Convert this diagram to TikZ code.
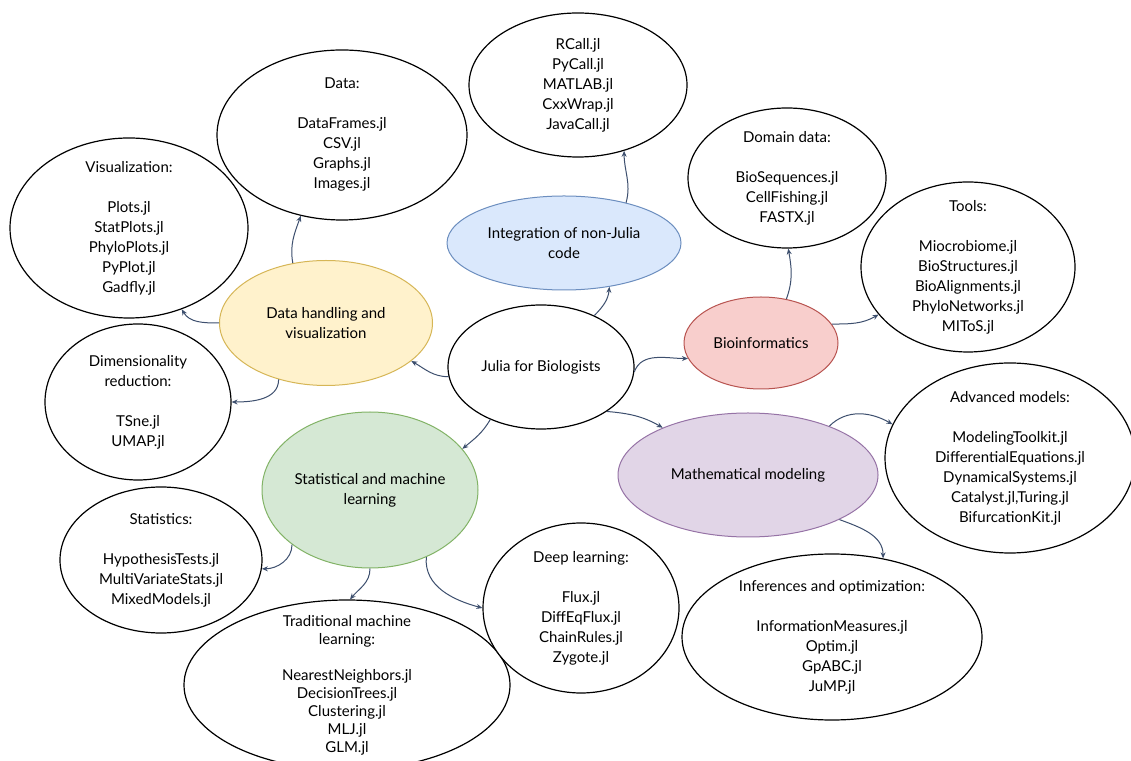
\documentclass[tikz,border=0pt]{standalone}
\usepackage{fontspec}
\setmainfont{Lato}
\usetikzlibrary{arrows.meta,shapes.geometric}
\definecolor{arrowblue}{RGB}{61,79,110}
\definecolor{bluefill}{HTML}{DAE8FC}
\definecolor{blueline}{HTML}{6C8EBF}
\definecolor{yellowfill}{HTML}{FFF2CC}
\definecolor{yellowline}{HTML}{D6B656}
\definecolor{redfill}{HTML}{F8CECC}
\definecolor{redline}{HTML}{B85450}
\definecolor{greenfill}{HTML}{D5E8D4}
\definecolor{greenline}{HTML}{82B366}
\definecolor{purplefill}{HTML}{E1D5E7}
\definecolor{purpleline}{HTML}{9673A6}

\begin{document}
\begin{tikzpicture}[
    x=1pt, y=1pt,
    dims/.style 2 args={minimum width=#1pt, minimum height=#2pt},
    ell/.style={ellipse, draw, inner sep=0pt},
    libell/.style={ell, draw=black, fill=white, line width=1.2pt},
    blueell/.style={ell, fill=bluefill, draw=blueline, line width=1pt},
    yellowell/.style={ell, fill=yellowfill, draw=yellowline, line width=1pt},
    redell/.style={ell, fill=redfill, draw=redline, line width=1pt},
    greenell/.style={ell, fill=greenfill, draw=greenline, line width=1pt},
    purpleell/.style={ell, fill=purplefill, draw=purpleline, line width=1pt},
    txt/.style={align=center, inner sep=0pt, font=\fontsize{15}{20}\selectfont},
    arrow/.style={-{Stealth[length=6pt, width=5pt]}, draw=arrowblue, line width=1pt}
]
    \fill[white] (0,0) rectangle (1131,760);
    \useasboundingbox (0,0) rectangle (1131,760);

    % Centre and topics
    \node[libell, dims={186}{124}] (julia) at (541,393) {};
    \node[blueell, dims={234}{94}] (integ) at (564,517) {};
    \node[yellowell, dims={213}{125}] (datavis) at (326,437) {};
    \node[redell, dims={154}{92}] (bioinf) at (761,417) {};
    \node[greenell, dims={216}{156}] (statml) at (370,270) {};
    \node[purpleell, dims={260}{124}] (mathmod) at (748,285) {};

    \node[txt] (juliatext) at (julia) {Julia for Biologists};
    \node[txt] (integtext) at (integ) {Integration of non-Julia\\code};
    \node[txt] (datavistext) at (datavis) {Data handling and\\visualization};
    \node[txt] (bioinftext) at (bioinf) {Bioinformatics};
    \node[txt] (statmltext) at (statml) {Statistical and machine\\learning};
    \node[txt] (mathmodtext) at (mathmod) {Mathematical modeling};

    % Package lists
    \node[libell, dims={218}{144}] (interop) at (578,675) {};
    \node[libell, dims={250}{170}] (data) at (342,625) {};
    \node[libell, dims={238}{180}] (vis) at (129,532) {};
    \node[libell, dims={186}{156}] (dimred) at (138,358) {};
    \node[libell, dims={202}{146}] (stats) at (161,200) {};
    \node[libell, dims={326}{170}] (tradml) at (347,75) {};
    \node[libell, dims={196}{170}] (deep) at (581,152) {};
    \node[libell, dims={300}{166}] (infer) at (832,123) {};
    \node[libell, dims={250}{190}] (advanced) at (1010,302) {};
    \node[libell, dims={198}{140}] (domain) at (787,582) {};
    \node[libell, dims={214}{170}] (tools) at (968,493) {};

    \node[txt] (interoptext) at (interop) {RCall.jl\\PyCall.jl\\MATLAB.jl\\CxxWrap.jl\\JavaCall.jl};
    \node[txt] (datatext) at (data) {Data:\\[20pt]DataFrames.jl\\CSV.jl\\Graphs.jl\\Images.jl};
    \node[txt] (vistext) at (vis) {Visualization:\\[20pt]Plots.jl\\StatPlots.jl\\PhyloPlots.jl\\PyPlot.jl\\Gadfly.jl};
    \node[txt] (dimredtext) at (dimred) {Dimensionality\\reduction:\\[20pt]TSne.jl\\UMAP.jl};
    \node[txt] (statstext) at (stats) {Statistics:\\[20pt]HypothesisTests.jl\\MultiVariateStats.jl\\MixedModels.jl};
    \node[txt, font=\fontsize{15}{18}\selectfont] (tradmltext) at (tradml) {Traditional machine\\learning:\\[18pt]NearestNeighbors.jl\\DecisionTrees.jl\\Clustering.jl\\MLJ.jl\\GLM.jl};
    \node[txt] (deeptext) at (deep) {Deep learning:\\[20pt]Flux.jl\\DiffEqFlux.jl\\ChainRules.jl\\Zygote.jl};
    \node[txt] (infertext) at (infer) {Inferences and optimization:\\[20pt]InformationMeasures.jl\\Optim.jl\\GpABC.jl\\JuMP.jl};
    \node[txt] (advancedtext) at (advanced) {Advanced models:\\[20pt]ModelingToolkit.jl\\DifferentialEquations.jl\\DynamicalSystems.jl\\Catalyst.jl,Turing.jl\\BifurcationKit.jl};
    \node[txt] (domaintext) at (domain) {Domain data:\\[20pt]BioSequences.jl\\CellFishing.jl\\FASTX.jl};
    \node[txt] (toolstext) at (tools) {Tools:\\[20pt]Miocrobiome.jl\\BioStructures.jl\\BioAlignments.jl\\PhyloNetworks.jl\\MIToS.jl};

    % From the centre
    \draw[arrow] (julia.44) to[out=45, in=-95] (integ.-44);
    \draw[arrow] (julia.186) to[out=180, in=-30] (datavis.-24);
    \draw[arrow] (julia.-3) to[out=70, in=180] (bioinf.192);
    \draw[arrow] (julia.-34) to[out=-5, in=150] (mathmod.151);
    \draw[arrow] (julia.-134) to[out=-120, in=40] (statml.24);

    % From the topics
    \draw[arrow] (integ.33) to[out=75, in=-90] (interop.-55);
    \draw[arrow] (datavis.180) to[out=180, in=-60] (vis.-57);
    \draw[arrow] (datavis.119) to[out=100, in=-110] (data.-117);
    \draw[arrow] (datavis.-130) to[out=-90, in=0] (dimred.0);
    \draw[arrow] (bioinf.60) to[out=70, in=-80] (domain.-89);
    \draw[arrow] (bioinf.15) to[out=0, in=-150] (tools.208);
    \draw[arrow] (mathmod.31) to[out=45, in=150] (advanced.164);
    \draw[arrow] (mathmod.-26) to[out=-20, in=90] (infer.57);
    \draw[arrow] (statml.-145) to[out=-90, in=0] (stats.-5);
    \draw[arrow] (statml.-90) to[out=-90, in=50] (tradml.88);
    \draw[arrow] (statml.-50) to[out=-95, in=165] (deep.180);
\end{tikzpicture}
\end{document}
